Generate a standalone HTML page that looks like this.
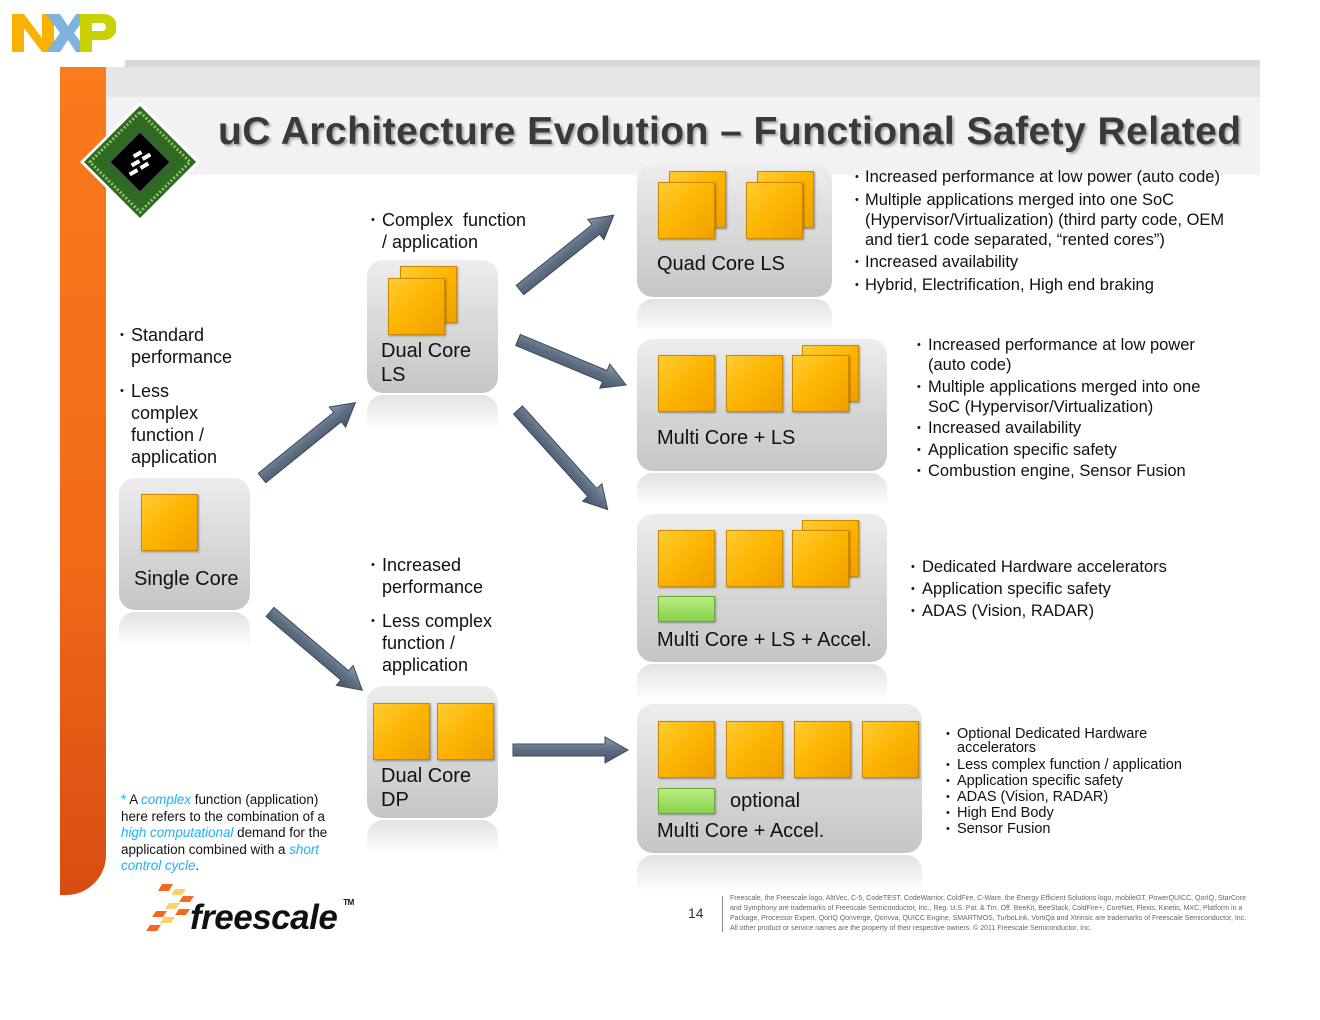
<!DOCTYPE html>
<html><head><meta charset="utf-8"><style>
body{margin:0;width:1320px;height:1020px;background:#fff;position:relative;overflow:hidden;font-family:"Liberation Sans",sans-serif;color:#111}
.a{position:absolute;white-space:nowrap}
.box{position:absolute;border-radius:16px;background:linear-gradient(#ededed,#d6d6d6 55%,#c6c6c6)}
.ref{position:absolute;border-radius:16px 16px 0 0;background:linear-gradient(#e2e2e2,#fafafa 90%,#fff)}
.c{position:absolute;width:55px;height:55px;background:linear-gradient(135deg,#ffcc33,#fdb400 50%,#f0a000);border:1px solid #c98a00;box-shadow:1px 1px 2px rgba(0,0,0,.35)}
.g{position:absolute;width:55px;height:24px;background:linear-gradient(#b8ee80,#86d24a);border:1px solid #6aa838;box-shadow:1px 1px 2px rgba(0,0,0,.3)}
.t{position:absolute;font-size:20px;line-height:24px;white-space:nowrap}
.l{position:absolute;font-size:18px;line-height:22px;white-space:nowrap}
.l b,.m b,.s b{font-weight:normal;position:absolute;font-size:11px}
.m{position:absolute;font-size:16.5px;line-height:20px;white-space:nowrap}
.s{position:absolute;font-size:14.5px;line-height:16px;white-space:nowrap}
</style></head><body>
<!-- NXP logo -->
<svg class="a" style="left:12px;top:14px" width="104" height="40" viewBox="0 0 104 40">
<polygon points="0,0 12,0 30,24 30,0 42,0 42,38 30,38 12,14 12,38 0,38" fill="#f9b200"/>
<polygon points="34,0 48,0 56,12 64,0 76,0 62,19 76,38 64,38 56,26 48,38 34,38 48,19" fill="#7fb2dc"/>
<path d="M68,0 H92 A12,12 0 0 1 92,26 H80 V38 H68 Z M80,9 V17 H90 A4,4 0 0 0 90,9 Z" fill="#c9d200" fill-rule="evenodd"/>
</svg>
<!-- header band -->
<div class="a" style="left:125px;top:60px;width:1135px;height:8px;background:#d9d9d9"></div>
<div class="a" style="left:106px;top:67px;width:1154px;height:30px;background:#e6e6e6"></div>
<div class="a" style="left:106px;top:97px;width:1154px;height:78px;background:#f2f2f2"></div>
<!-- orange bar -->
<div class="a" style="left:60px;top:67px;width:46px;height:828px;background:linear-gradient(#fb7a1c,#f06a18 60%,#d84c12);border-radius:0 0 40px 0"></div>
<!-- chip -->
<svg class="a" style="left:78px;top:100px" width="124" height="124" viewBox="0 0 124 124">
<polygon points="62,2 122,62 62,122 2,62" fill="#fff"/>
<polygon points="62,6 118,62 62,118 6,62" fill="#2e6a22"/>
<polygon points="62,12 112,62 62,112 12,62" fill="none" stroke="#8fc46a" stroke-width="3" stroke-dasharray="2 2"/>
<polygon points="62,32 92,62 62,92 32,62" fill="#000" stroke="#556" stroke-width="1"/>
<g fill="#fff"><rect x="55" y="52" width="9" height="4" transform="rotate(-30 60 54)"/><rect x="64" y="55" width="9" height="4" transform="rotate(-30 68 57)"/><rect x="53" y="61" width="9" height="4" transform="rotate(-30 58 63)"/><rect x="62" y="64" width="9" height="4" transform="rotate(-30 66 66)"/><rect x="51" y="70" width="9" height="4" transform="rotate(-30 56 72)"/></g>
</svg>
<div class="a" style="left:218px;top:110px;font-size:39px;font-weight:bold;color:#3a3a3a;text-shadow:2px 2px 2px #aaa;letter-spacing:0.45px">uC Architecture Evolution – Functional Safety Related</div>

<!-- boxes -->
<div class="box" style="left:119px;top:478px;width:131px;height:132px"></div><div class="ref" style="left:119px;top:612px;width:131px;height:33px"></div>
<div class="box" style="left:367px;top:260px;width:131px;height:133px"></div><div class="ref" style="left:367px;top:395px;width:131px;height:33px"></div>
<div class="box" style="left:367px;top:686px;width:131px;height:132px"></div><div class="ref" style="left:367px;top:820px;width:131px;height:32px"></div>
<div class="box" style="left:637px;top:165px;width:195px;height:132px"></div><div class="ref" style="left:637px;top:299px;width:195px;height:31px"></div>
<div class="box" style="left:637px;top:339px;width:250px;height:132px"></div><div class="ref" style="left:637px;top:473px;width:250px;height:32px"></div>
<div class="box" style="left:637px;top:514px;width:250px;height:148px"></div><div class="ref" style="left:637px;top:664px;width:250px;height:34px"></div>
<div class="box" style="left:637px;top:704px;width:285px;height:149px"></div><div class="ref" style="left:637px;top:855px;width:285px;height:35px"></div>

<!-- cores -->
<div class="c" style="left:141px;top:494px"></div>
<div class="c" style="left:400px;top:266px"></div><div class="c" style="left:388px;top:278px"></div>
<div class="c" style="left:373px;top:703px"></div><div class="c" style="left:437px;top:703px"></div>
<div class="c" style="left:669px;top:171px"></div><div class="c" style="left:658px;top:182px"></div>
<div class="c" style="left:757px;top:171px"></div><div class="c" style="left:746px;top:182px"></div>
<div class="c" style="left:658px;top:355px"></div><div class="c" style="left:726px;top:355px"></div><div class="c" style="left:802px;top:345px"></div><div class="c" style="left:792px;top:355px"></div>
<div class="c" style="left:658px;top:530px"></div><div class="c" style="left:726px;top:530px"></div><div class="c" style="left:802px;top:520px"></div><div class="c" style="left:792px;top:530px"></div>
<div class="g" style="left:658px;top:596px"></div>
<div class="c" style="left:658px;top:721px"></div><div class="c" style="left:726px;top:721px"></div><div class="c" style="left:794px;top:721px"></div><div class="c" style="left:862px;top:721px"></div>
<div class="g" style="left:658px;top:788px"></div>

<!-- box labels -->
<div class="t" style="left:134px;top:567px">Single Core</div>
<div class="t" style="left:381px;top:339px">Dual Core<br>LS</div>
<div class="t" style="left:381px;top:764px">Dual Core<br>DP</div>
<div class="t" style="left:657px;top:252px">Quad Core LS</div>
<div class="t" style="left:657px;top:426px">Multi Core + LS</div>
<div class="t" style="left:657px;top:628px">Multi Core + LS + Accel.</div>
<div class="t" style="left:730px;top:789px">optional</div>
<div class="t" style="left:657px;top:819px">Multi Core + Accel.</div>

<!-- arrows -->
<svg class="a" style="left:0;top:0" width="1320" height="1020">
<defs><linearGradient id="ag" x1="0" y1="0" x2="0" y2="1"><stop offset="0" stop-color="#8a9bb0"/><stop offset="0.5" stop-color="#5d6e82"/><stop offset="1" stop-color="#46566a"/></linearGradient></defs>
<g fill="url(#ag)" stroke="#3d4a5a" stroke-width="1">
<g transform="translate(262,478) rotate(-38.9)"><polygon points="0,-6 97,-6 97,-13 120,0 97,13 97,6 0,6"/></g>
<g transform="translate(270,612) rotate(40.3)"><polygon points="0,-6 98,-6 98,-13 121,0 98,13 98,6 0,6"/></g>
<g transform="translate(520,290) rotate(-38.6)"><polygon points="0,-6 97,-6 97,-13 120,0 97,13 97,6 0,6"/></g>
<g transform="translate(518,340) rotate(22.6)"><polygon points="0,-6 94,-6 94,-13 117,0 94,13 94,6 0,6"/></g>
<g transform="translate(518,410) rotate(48)"><polygon points="0,-6 111,-6 111,-13 134,0 111,13 111,6 0,6"/></g>
<g transform="translate(513,750)"><polygon points="0,-6 92,-6 92,-13 115,0 92,13 92,6 0,6"/></g>
</g></svg>

<!-- left text -->
<div class="l" style="left:131px;top:324px"><b style="left:-11px">•</b>Standard<br>performance</div>
<div class="l" style="left:131px;top:380px"><b style="left:-11px">•</b>Less<br>complex<br>function /<br>application</div>
<div class="l" style="left:382px;top:209px"><b style="left:-11px">•</b>Complex&nbsp; function<br>/ application</div>
<div class="l" style="left:382px;top:554px"><b style="left:-11px">•</b>Increased<br>performance</div>
<div class="l" style="left:382px;top:610px"><b style="left:-11px">•</b>Less complex<br>function /<br>application</div>

<div class="m" style="left:865px;top:167px"><b style="left:-10px">•</b>Increased performance at low power (auto code)</div>
<div class="m" style="left:865px;top:190px"><b style="left:-10px">•</b>Multiple applications merged into one SoC<br>(Hypervisor/Virtualization) (third party code, OEM<br>and tier1 code separated, “rented cores”)</div>
<div class="m" style="left:865px;top:252px"><b style="left:-10px">•</b>Increased availability</div>
<div class="m" style="left:865px;top:275px"><b style="left:-10px">•</b>Hybrid, Electrification, High end braking</div>

<div class="m" style="left:928px;top:335px"><b style="left:-11px">•</b>Increased performance at low power<br>(auto code)</div>
<div class="m" style="left:928px;top:377px"><b style="left:-11px">•</b>Multiple applications merged into one<br>SoC (Hypervisor/Virtualization)</div>
<div class="m" style="left:928px;top:418px"><b style="left:-11px">•</b>Increased availability</div>
<div class="m" style="left:928px;top:440px"><b style="left:-11px">•</b>Application specific safety</div>
<div class="m" style="left:928px;top:461px"><b style="left:-11px">•</b>Combustion engine, Sensor Fusion</div>

<div class="m" style="left:922px;top:557px"><b style="left:-11px">•</b>Dedicated Hardware accelerators</div>
<div class="m" style="left:922px;top:579px"><b style="left:-11px">•</b>Application specific safety</div>
<div class="m" style="left:922px;top:601px"><b style="left:-11px">•</b>ADAS (Vision, RADAR)</div>

<div class="s" style="left:957px;top:727px;line-height:14px"><b style="left:-11px">•</b>Optional Dedicated Hardware<br>accelerators</div>
<div class="s" style="left:957px;top:757px"><b style="left:-11px">•</b>Less complex function / application<br><b style="left:-11px;top:16px">•</b>Application specific safety<br><b style="left:-11px;top:32px">•</b>ADAS (Vision, RADAR)<br><b style="left:-11px;top:48px">•</b>High End Body<br><b style="left:-11px;top:64px">•</b>Sensor Fusion</div>

<!-- footnote -->
<div class="a" style="left:121px;top:792px;font-size:13.4px;line-height:16.5px"><span style="color:#20b0f0">*</span> A <i style="color:#20b0f0">complex</i> function (application)<br>here refers to the combination of a<br><i style="color:#20b0f0">high computational</i> demand for the<br>application combined with a <i style="color:#20b0f0">short</i><br><i style="color:#20b0f0">control cycle</i>.</div>

<!-- freescale logo mark -->
<svg class="a" style="left:140px;top:880px" width="60" height="56" viewBox="0 0 60 56">
<polygon points="22,4 33,4 29,11 18,11" fill="#f26b1d"/>
<polygon points="35,9 46,9 42,15 31,15" fill="#fcd16a"/>
<polygon points="43,16 54,16 50,22 39,22" fill="#f26b1d"/>
<polygon points="29,23 40,23 36,29 25,29" fill="#fcd16a"/>
<polygon points="39,29 50,29 46,35 35,35" fill="#f26b1d"/>
<polygon points="16,31 27,31 23,37 12,37" fill="#f26b1d"/>
<polygon points="24,37 35,37 31,43 20,43" fill="#fcd16a"/>
<polygon points="10,45 21,45 17,51 6,51" fill="#f26b1d"/>
</svg>
<div class="a" style="left:190px;top:898px;font-size:35px;font-weight:bold;font-style:italic;color:#111;letter-spacing:-0.5px">freescale<span style="font-size:8px;vertical-align:top;margin-left:6px;font-style:normal">TM</span></div>

<!-- footer -->
<div class="a" style="left:688px;top:905px;font-size:14px;color:#333">14</div>
<div class="a" style="left:722px;top:896px;width:1px;height:36px;background:#888"></div>
<div class="a" style="left:730px;top:894px;font-size:7px;line-height:10px;color:#666">Freescale, the Freescale logo, AltiVec, C-5, CodeTEST, CodeWarrior, ColdFire, C-Ware, the Energy Efficient Solutions logo, mobileGT, PowerQUICC, QorIQ, StarCore<br>and Symphony are trademarks of Freescale Semiconductor, Inc., Reg. U.S. Pat. &amp; Tm. Off. BeeKit, BeeStack, ColdFire+, CoreNet, Flexis, Kinetis, MXC, Platform in a<br>Package, Processor Expert, QorIQ Qonverge, Qorivva, QUICC Engine, SMARTMOS, TurboLink, VortiQa and Xtrinsic are trademarks of Freescale Semiconductor, Inc.<br>All other product or service names are the property of their respective owners. © 2011 Freescale Semiconductor, Inc.</div>
</body></html>
